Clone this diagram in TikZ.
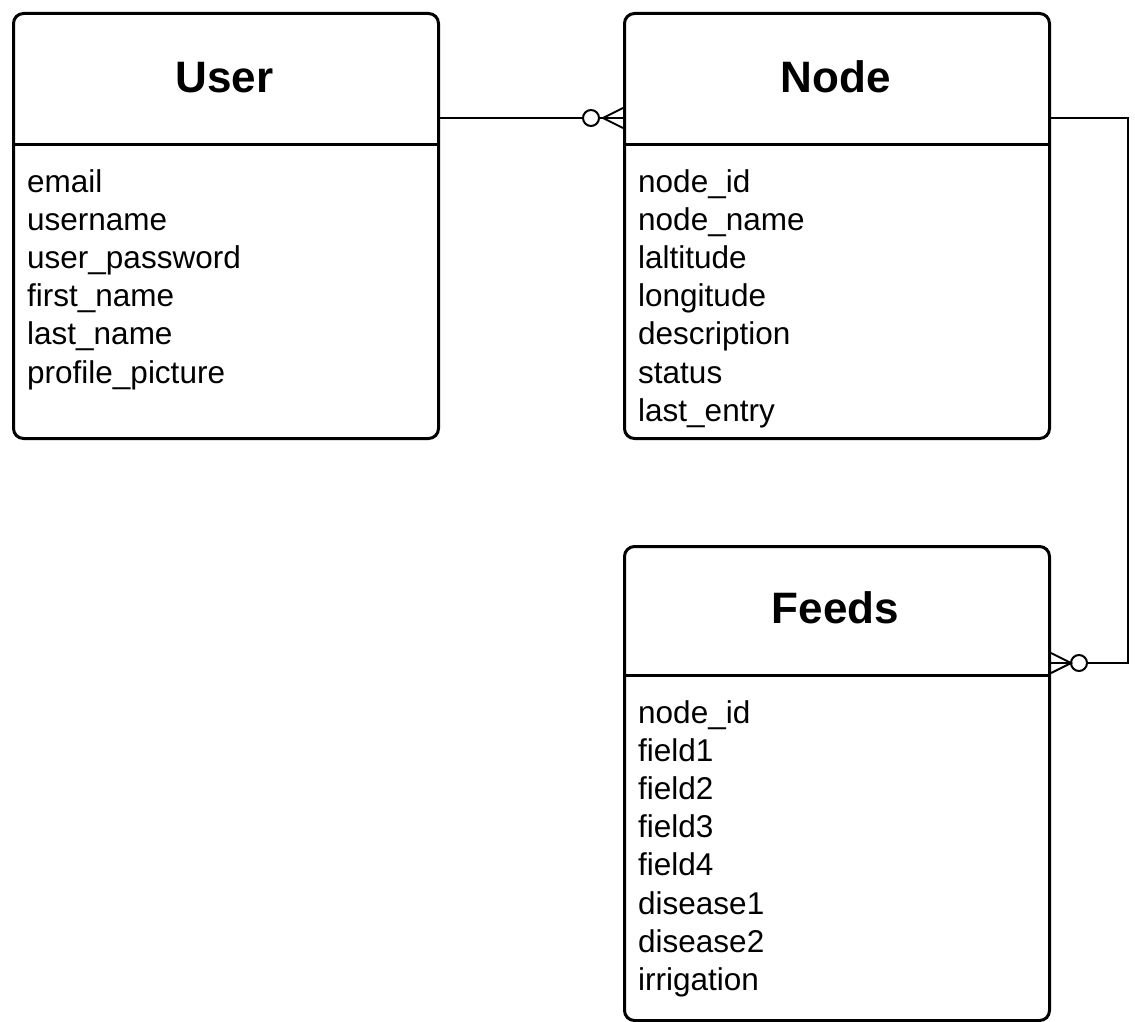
\documentclass[tikz,border=0pt]{standalone}
\usepackage{fontspec}
\setmainfont{Liberation Sans}
\usetikzlibrary{calc}
\begin{document}
\begin{tikzpicture}[x=1pt,y=1pt,
  entity/.style={draw, line width=3pt, rounded corners=10pt, minimum width=425pt, inner sep=0pt, anchor=north west},
  divider/.style={line width=3pt},
  title/.style={anchor=base, inner sep=0pt, font=\fontsize{44}{50}\selectfont\bfseries},
  attr/.style={anchor=base west, inner sep=0pt, font=\fontsize{31.5}{38}\selectfont},
  conn/.style={line width=2pt},
  circ/.style={circle, draw, line width=2pt, minimum size=16pt, inner sep=0pt, fill=white}]
\useasboundingbox (0,0) rectangle (1135,-1022);
% entities
\node[entity, minimum height=425pt] (User) at (12,-12) {};
\node[entity, minimum height=425pt] (Node) at (623,-12) {};
\node[entity, minimum height=474pt] (Feeds) at (623,-545) {};
\draw[divider] (User.west |- 0,-145) -- (User.east |- 0,-145);
\draw[divider] (Node.west |- 0,-145) -- (Node.east |- 0,-145);
\draw[divider] (Feeds.west |- 0,-675) -- (Feeds.east |- 0,-675);
% titles
\node[title] (tUser) at (224.5,-93) {User};
\node[title] (tNode) at (835.5,-93) {Node};
\node[title] (tFeeds) at (835.5,-623) {Feeds};
% attributes
\foreach \t [count=\i] in {email,username,user\_password,first\_name,last\_name,profile\_picture}
  \node[attr] (ua\i) at (27,{-192-38.2*(\i-1)}) {\t};
\foreach \t [count=\i] in {node\_id,node\_name,laltitude,longitude,description,status,last\_entry}
  \node[attr] (na\i) at (638,{-192-38.2*(\i-1)}) {\t};
\foreach \t [count=\i] in {node\_id,field1,field2,field3,field4,disease1,disease2,irrigation}
  \node[attr] (fa\i) at (638,{-723-38.2*(\i-1)}) {\t};
% connector User - Node
\coordinate (r1) at (0,-118);
\node[circ] (c1) at (591,-118) {};
\draw[conn] (User.east |- r1) -- (c1.west);
\draw[conn] (c1.east) -- (Node.west |- r1);
\draw[conn] ($(Node.west |- r1)+(0,10)$) -- ($(Node.west |- r1)+(-20,0)$) -- ($(Node.west |- r1)+(0,-10)$);
% connector Node - Feeds
\coordinate (r2) at (1128,-663);
\node[circ] (c2) at (1079,-663) {};
\draw[conn] (Node.east |- r1) -| (r2) -- (c2.east);
\draw[conn] (c2.west) -- (Feeds.east |- r2);
\draw[conn] ($(Feeds.east |- r2)+(0,10)$) -- ($(Feeds.east |- r2)+(20,0)$) -- ($(Feeds.east |- r2)+(0,-10)$);
\end{tikzpicture}
\end{document}
